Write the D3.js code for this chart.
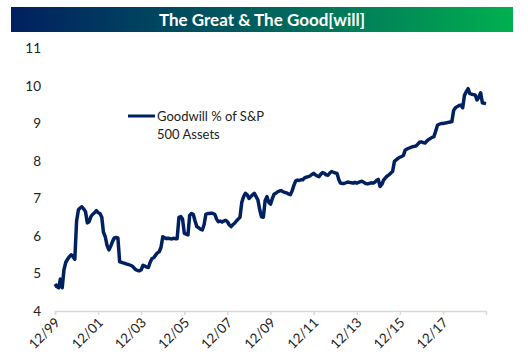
<!DOCTYPE html>
<html>
<head>
<meta charset="utf-8">
<script src="https://cdn.jsdelivr.net/npm/d3@7"></script>
<style>
  body { margin: 0; background: #fff; }
  text { font-family: Lato, "Liberation Sans", sans-serif; }
</style>
</head>
<body>
<div id="chart"></div>
<script>
  // goodwill as % of S&P 500 assets, one value per month from 12/99
  let startMonth = new Date(1999, 11, 1);
  let goodwill = [
    4.72, 4.65, 4.62, 4.85, 4.62, 5.10, 5.30, 5.38, 5.45, 5.50, 5.45, 5.38,
    6.40, 6.70, 6.75, 6.78, 6.72, 6.65, 6.35, 6.38, 6.52, 6.58, 6.62, 6.68,
    6.62, 6.60, 6.50, 6.10, 5.98, 5.75, 5.63, 5.72, 5.85, 5.95, 5.96, 5.95,
    5.31, 5.30, 5.28, 5.27, 5.25, 5.24, 5.22, 5.20, 5.15, 5.10, 5.08, 5.07,
    5.10, 5.22, 5.20, 5.17, 5.16, 5.30, 5.40, 5.42, 5.49, 5.55, 5.58, 5.70,
    5.98, 5.95, 5.93, 5.94, 5.93, 5.92, 5.94, 5.93, 5.93, 6.50, 6.52, 6.45,
    6.07, 6.05, 6.03, 6.55, 6.60, 6.58, 6.40, 6.25, 6.22, 6.18, 6.16, 6.30,
    6.58, 6.60, 6.60, 6.61, 6.60, 6.58, 6.45, 6.38, 6.40, 6.37, 6.40, 6.42,
    6.38, 6.30, 6.25, 6.30, 6.34, 6.40, 6.45, 6.50, 6.90, 7.05, 7.14, 7.10,
    7.00, 7.05, 7.10, 7.14, 7.05, 6.96, 6.70, 6.51, 6.50, 6.95, 7.05, 6.90,
    6.85, 7.00, 7.12, 7.14, 7.18, 7.20, 7.21, 7.18, 7.16, 7.15, 7.12, 7.10,
    7.20, 7.35, 7.47, 7.49, 7.48, 7.50, 7.50, 7.55, 7.57, 7.58, 7.60, 7.64,
    7.67, 7.63, 7.60, 7.58, 7.65, 7.69, 7.67, 7.63, 7.62, 7.68, 7.72, 7.70,
    7.68, 7.67, 7.50, 7.41, 7.40, 7.40, 7.42, 7.44, 7.43, 7.42, 7.41, 7.43,
    7.41, 7.43, 7.45, 7.46, 7.43, 7.40, 7.39, 7.40, 7.42, 7.41, 7.43, 7.48,
    7.51, 7.32, 7.38, 7.49, 7.55, 7.60, 7.63, 7.68, 7.72, 7.99, 8.03, 8.07,
    8.10, 8.12, 8.15, 8.29, 8.32, 8.34, 8.36, 8.38, 8.39, 8.40, 8.45, 8.50,
    8.51, 8.49, 8.48, 8.53, 8.57, 8.60, 8.63, 8.65, 8.80, 8.96, 8.98, 9.00,
    9.00, 9.01, 9.02, 9.03, 9.04, 9.05, 9.35, 9.42, 9.45, 9.48, 9.49, 9.42,
    9.75, 9.85, 9.93, 9.80, 9.78, 9.77, 9.76, 9.63, 9.70, 9.82, 9.55, 9.54,
    9.53
  ];
  let yTicks = [4, 5, 6, 7, 8, 9, 10, 11];
  let tickYears = [1999, 2001, 2003, 2005, 2007, 2009, 2011, 2013, 2015, 2017];
  let titleText = 'The Great & The Good[will]';
  let legendLines = ['Goodwill % of S&P', '500 Assets'];

  let width = 528;
  let height = 363;
  let navy = '#002060';

  let data = goodwill.map((v, i) => ({ date: d3.timeMonth.offset(startMonth, i), value: v }));

  let svg = d3.select('#chart')
    .append('svg')
    .attr('width', width)
    .attr('height', height);

  // title band with navy -> green gradient
  let grad = svg.append('defs').append('linearGradient')
    .attr('id', 'titleGrad')
    .attr('x1', '0%').attr('x2', '100%');
  grad.append('stop').attr('offset', '0%').attr('stop-color', '#002060');
  grad.append('stop').attr('offset', '50%').attr('stop-color', '#00615e');
  grad.append('stop').attr('offset', '100%').attr('stop-color', '#00b050');

  svg.append('rect')
    .attr('x', 11).attr('y', 7)
    .attr('width', 502).attr('height', 25)
    .attr('fill', 'url(#titleGrad)');

  svg.append('text')
    .attr('x', 262).attr('y', 25.5)
    .attr('text-anchor', 'middle')
    .attr('fill', '#fff')
    .attr('font-size', 17)
    .attr('font-weight', 'bold')
    .text(titleText);

  let x = d3.scaleTime()
    .domain([startMonth, d3.timeMonth.offset(startMonth, 240)])
    .range([55, 486]);

  let y = d3.scaleLinear()
    .domain([4, 11])
    .range([311, 48.5]);

  // y labels, no axis line
  svg.selectAll('.ylab')
    .data(yTicks)
    .enter().append('text')
    .attr('class', 'ylab')
    .attr('x', 41)
    .attr('y', (d) => y(d))
    .attr('dy', '0.35em')
    .attr('text-anchor', 'end')
    .attr('font-size', 13.5)
    .attr('fill', '#222')
    .text((d) => d);

  // x axis
  let xAxis = d3.axisBottom(x)
    .tickValues(tickYears.map((yr) => new Date(yr, 11, 1)))
    .tickSize(4)
    .tickFormat(d3.timeFormat('%m/%y'));

  let gx = svg.append('g')
    .attr('transform', `translate(0, ${y(4)})`)
    .call(xAxis);

  gx.select('.domain').attr('stroke', '#d9d9d9').attr('stroke-width', 1.5);
  gx.selectAll('.tick line').attr('stroke', '#d9d9d9').attr('stroke-width', 1.5);
  gx.selectAll('.tick text')
    .attr('font-family', 'Lato, "Liberation Sans", sans-serif')
    .attr('font-size', 13.5)
    .attr('fill', '#222')
    .attr('text-anchor', 'end')
    .attr('transform', 'translate(2, 9) rotate(-45)')
    .attr('dy', '0.35em')
    .attr('y', 0)
    .attr('x', 0);

  // the line
  let line = d3.line()
    .x((d) => x(d.date))
    .y((d) => y(d.value));

  svg.append('path')
    .datum(data)
    .attr('fill', 'none')
    .attr('stroke', navy)
    .attr('stroke-width', 3.5)
    .attr('stroke-linejoin', 'round')
    .attr('d', line);

  // legend
  svg.append('line')
    .attr('x1', 128).attr('x2', 155)
    .attr('y1', 116).attr('y2', 116)
    .attr('stroke', navy)
    .attr('stroke-width', 3);

  svg.selectAll('.leg')
    .data(legendLines)
    .enter().append('text')
    .attr('class', 'leg')
    .attr('x', 157)
    .attr('y', (d, i) => 116 + i * 18)
    .attr('dy', '0.35em')
    .attr('font-size', 13)
    .attr('fill', '#222')
    .text((d) => d);
</script>
</body>
</html>
